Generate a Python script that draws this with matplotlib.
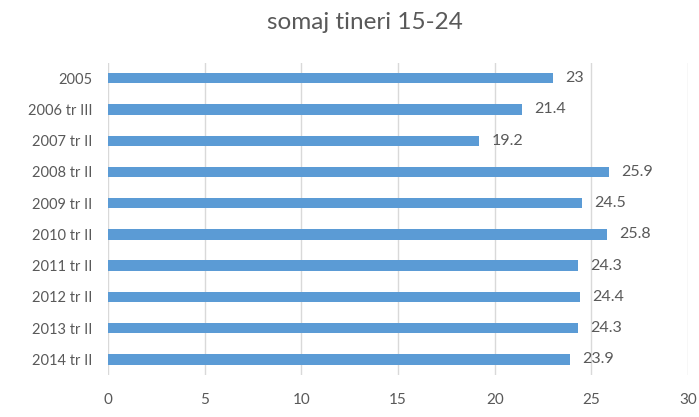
import matplotlib.pyplot as plt

categories = ["2005", "2006 tr III", "2007 tr II", "2008 tr II", "2009 tr II",
              "2010 tr II", "2011 tr II", "2012 tr II", "2013 tr II", "2014 tr II"]
values = [23, 21.4, 19.2, 25.9, 24.5, 25.8, 24.3, 24.4, 24.3, 23.9]
value_labels = ["23", "21.4", "19.2", "25.9", "24.5", "25.8", "24.3", "24.4", "24.3", "23.9"]
x_ticks = [0, 5, 10, 15, 20, 25, 30]

plt.rcParams["font.family"] = ["Lato", "DejaVu Sans"]
text_color = "#595959"

fig = plt.figure(figsize=(6.99, 4.17), dpi=100)
ax = fig.add_axes([0.1545, 0.1007, 0.8298, 0.7493])

pos = list(range(len(categories)))
ax.barh(pos, values, height=0.33, color="#5B9BD5", zorder=3)
for p, v, lab in zip(pos, values, value_labels):
    ax.annotate(lab, (v, p), xytext=(9, 0), textcoords="offset points",
                va="center", ha="left", fontsize=11.5, color=text_color)

ax.set_xlim(0, 30)
ax.set_ylim(len(categories) - 0.5, -0.5)
ax.set_yticks(pos, categories)
ax.set_xticks(x_ticks)
ax.tick_params(axis="both", length=0, labelcolor=text_color)
ax.tick_params(axis="y", pad=11, labelsize=10.5)
ax.tick_params(axis="x", pad=13, labelsize=11)
ax.grid(axis="x", color="#D9D9D9", linewidth=1, zorder=0)
for s in ax.spines.values():
    s.set_visible(False)

fig.text(0.522, 0.945, "somaj tineri 15-24", ha="center", va="center",
         fontsize=17.5, color=text_color)

fig.savefig("out.png")
